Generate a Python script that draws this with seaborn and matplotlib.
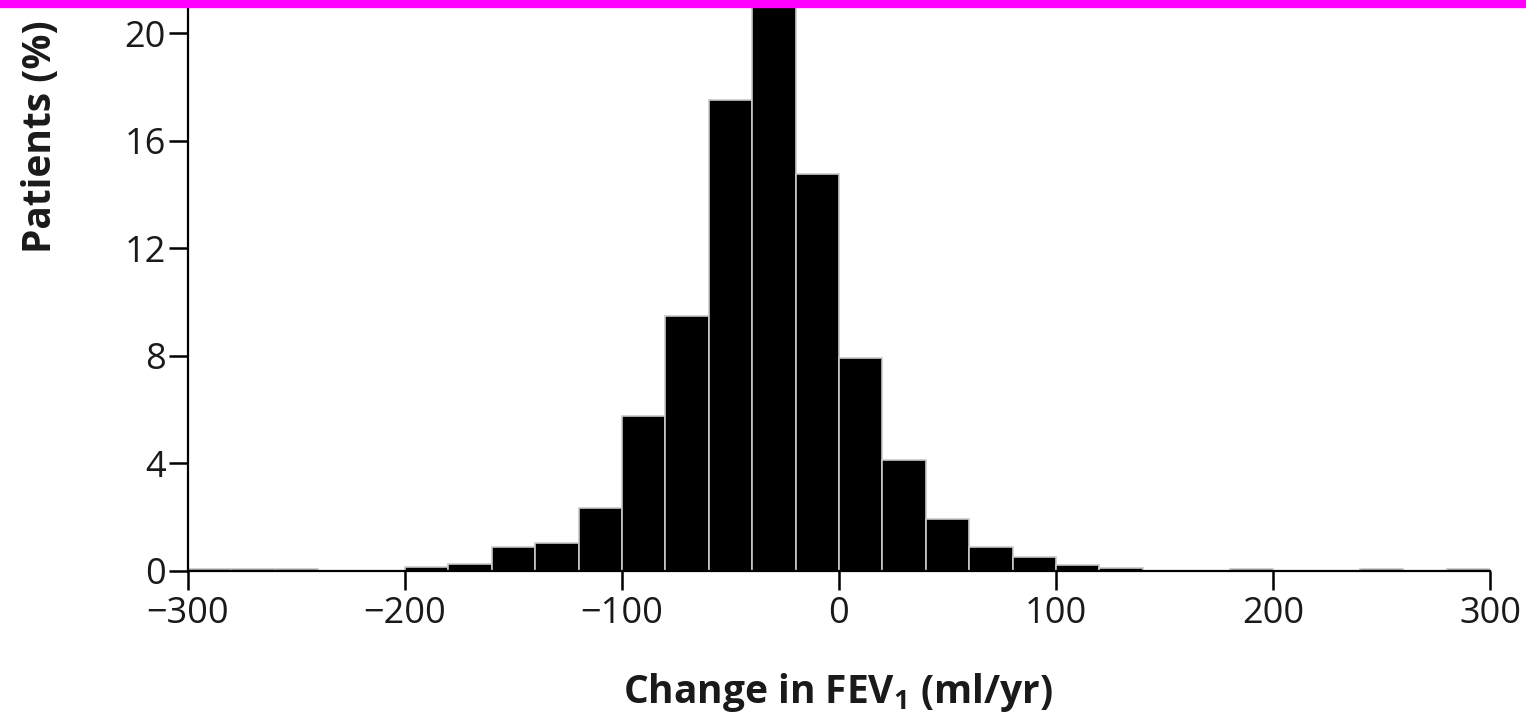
import numpy as np
import pandas as pd
import matplotlib
matplotlib.use("Agg")
import matplotlib.pyplot as plt
from matplotlib.patches import Rectangle
import seaborn as sns

# ---- data ----
bin_edges = [-300, -280, -260, -240, -220, -200, -180, -160, -140, -120, -100,
             -80, -60, -40, -20, 0, 20, 40, 60, 80, 100, 120, 140, 160, 180,
             200, 220, 240, 260, 280, 300]
bin_centers = [-290, -270, -250, -230, -210, -190, -170, -150, -130, -110,
               -90, -70, -50, -30, -10, 10, 30, 50, 70, 90, 110, 130, 150,
               170, 190, 210, 230, 250, 270, 290]
patients_pct = [0.06, 0.06, 0.06, 0.0, 0.0, 0.15, 0.25, 0.9, 1.05, 2.33,
                5.76, 9.48, 17.5, 21.5, 14.76, 7.92, 4.13, 1.95, 0.9, 0.52,
                0.22, 0.13, 0.0, 0.0, 0.06, 0.0, 0.0, 0.06, 0.0, 0.06]
x_ticks = [-300, -200, -100, 0, 100, 200, 300]
y_ticks = [0, 4, 8, 12, 16, 20]
x_label = "Change in FEV$_\\mathregular{1}$ (ml/yr)"
y_label = "Patients (%)"

df = pd.DataFrame({"change": bin_centers, "pct": patients_pct})

sns.set_theme(style="white")
plt.rcParams["font.family"] = ["Open Sans", "DejaVu Sans"]
plt.rcParams["axes.unicode_minus"] = True

W, H, DPI = 1526, 717, 100
fig = plt.figure(figsize=(W / DPI, H / DPI), dpi=DPI)
ax = fig.add_axes([188 / W, 1 - 571 / H, (1490 - 188) / W, (571 - 7) / H])

sns.histplot(data=df, x="change", weights="pct", bins=bin_edges, ax=ax,
             color="black", edgecolor="#c8c8c8", linewidth=1.2, alpha=1.0)

ax.set_xlim(-300, 300)
ax.set_ylim(0, 20.97)
ax.set_xticks(x_ticks)
ax.set_yticks(y_ticks)
ax.set_xticklabels([f"{t}".replace("-", "\u2212") for t in x_ticks])

for s in ["top", "right"]:
    ax.spines[s].set_visible(False)
for s in ["left", "bottom"]:
    ax.spines[s].set_linewidth(1.6)
    ax.spines[s].set_color("black")

ax.tick_params(axis="both", which="major", direction="out", length=14,
               width=1.8, color="black", labelsize=26, labelcolor="#1a1a1a",
               bottom=True, left=True)
ax.tick_params(axis="y", pad=2)
ax.tick_params(axis="x", pad=4)
ax.grid(False)

ax.set_xlabel(x_label, fontsize=28, fontweight="bold", color="#1a1a1a")
ax.set_ylabel(y_label, fontsize=28, fontweight="bold", color="#1a1a1a")
ax.xaxis.set_label_coords(0.499, -0.178)
ax.yaxis.set_label_coords(-0.098, 0.77)

fig.add_artist(Rectangle((0, 1 - 7 / H), 1, 7 / H, transform=fig.transFigure,
                         color="#FF00FF", zorder=10))

fig.savefig("out.png", dpi=DPI, facecolor="white")
